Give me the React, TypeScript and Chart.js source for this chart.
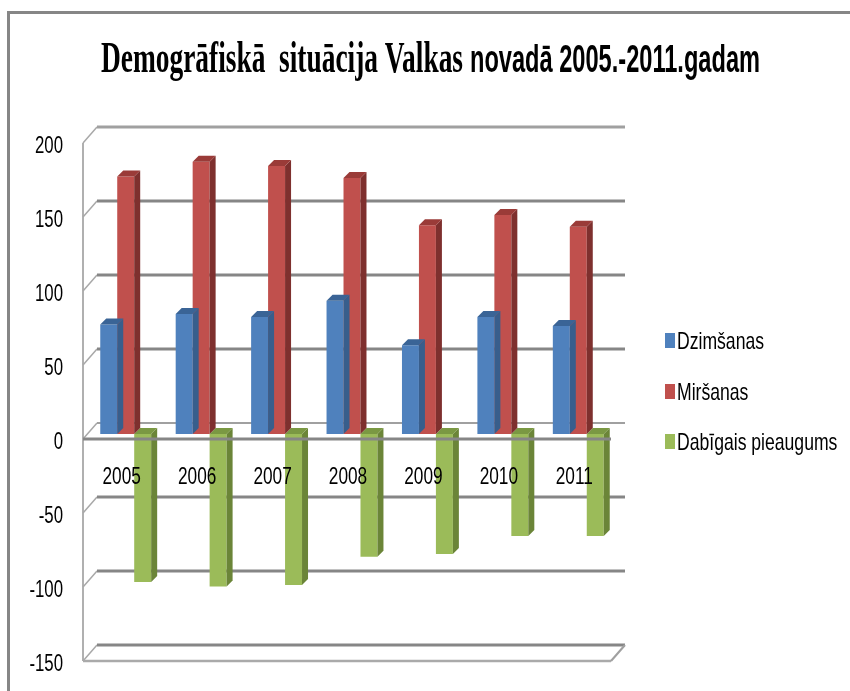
import React, { useEffect, useRef } from "react";
import { Chart, registerables } from "chart.js";
Chart.register(...registerables);

const years = ["2005", "2006", "2007", "2008", "2009", "2010", "2011"];
const births = [74, 81, 79, 90, 60, 79, 73];
const deaths = [174, 184, 181, 173, 141, 148, 140];
const naturalGrowth = [-100, -103, -102, -83, -81, -69, -69];
const seriesNames = ["Dzimšanas", "Miršanas", "Dabīgais pieaugums"];
const yTickValues = [-150, -100, -50, 0, 50, 100, 150, 200];
const titleSerif = "Demogrāfiskā  situācija Valkas";
const titleSans = "novadā 2005.-2011.gadam";

const frontColors = ["#4F81BD", "#C0504D", "#9BBB59"];
const sideColors = ["#385E8C", "#7E302E", "#6B8538"];
const topColors = ["#3A6496", "#9A3B38", "#7A9843"];

const BACK_X = 9, BACK_Y = -11, FRONT_X = -5, FRONT_Y = 5, DEPTH = 6;
const LABEL_FONT = "23px 'Liberation Sans', Arial, sans-serif";

function line(ctx: CanvasRenderingContext2D, x1: number, y1: number, x2: number, y2: number, color: string, w: number) {
  ctx.beginPath();
  ctx.strokeStyle = color;
  ctx.lineWidth = w;
  ctx.moveTo(x1, y1);
  ctx.lineTo(x2, y2);
  ctx.stroke();
}

function scaledText(ctx: CanvasRenderingContext2D, text: string, x: number, y: number, font: string, targetW: number) {
  ctx.font = font;
  const w = ctx.measureText(text).width;
  ctx.save();
  ctx.translate(x, y);
  ctx.scale(targetW / w, 1);
  ctx.fillText(text, 0, 0);
  ctx.restore();
}

function squeezedText(ctx: CanvasRenderingContext2D, text: string, x: number, y: number, font: string, sx: number, align: CanvasTextAlign) {
  ctx.save();
  ctx.font = font;
  ctx.textAlign = align;
  ctx.textBaseline = "alphabetic";
  ctx.translate(x, y);
  ctx.scale(sx, 1);
  ctx.fillText(text, 0, 0);
  ctx.restore();
}

const wallsPlugin = {
  id: "walls",
  beforeDatasetsDraw(chart: any) {
    const { ctx, chartArea: a, scales } = chart;
    const y = scales.y;
    ctx.save();
    const yTop = y.getPixelForValue(200);
    const yBot = y.getPixelForValue(-150);
    line(ctx, a.left + FRONT_X, yTop + FRONT_Y, a.left + FRONT_X, yBot + FRONT_Y, "#b0b0b0", 2);
    yTickValues.forEach((v) => {
      const py = y.getPixelForValue(v);
      line(ctx, a.left + FRONT_X, py + FRONT_Y, a.left + BACK_X, py + BACK_Y, "#a8a8a8", 1.5);
      const col = v === 200 ? "#a0a0a0" : v === 0 ? "#a0a0a0" : "#868686";
      line(ctx, a.left + BACK_X, py + BACK_Y, a.right + BACK_X, py + BACK_Y, col, v === 0 ? 2 : 3);
    });
    line(ctx, a.left + FRONT_X, yBot + FRONT_Y, a.right + FRONT_X, yBot + FRONT_Y, "#aaaaaa", 2.5);
    line(ctx, a.right + FRONT_X, yBot + FRONT_Y, a.right + BACK_X, yBot + BACK_Y, "#a0a0a0", 2);
    ctx.restore();
  },
  afterDatasetDraw(chart: any, args: any) {
    const ctx = chart.ctx;
    const i = args.index;
    ctx.save();
    args.meta.data.forEach((el: any) => {
      const { x, y, base, width } = el.getProps(["x", "y", "base", "width"], true);
      const l = x - width / 2, r = x + width / 2;
      const t = Math.min(y, base), b = Math.max(y, base);
      ctx.fillStyle = sideColors[i];
      ctx.beginPath();
      ctx.moveTo(r, t);
      ctx.lineTo(r + DEPTH, t - DEPTH);
      ctx.lineTo(r + DEPTH, b - DEPTH);
      ctx.lineTo(r, b);
      ctx.closePath();
      ctx.fill();
      ctx.fillStyle = topColors[i];
      ctx.beginPath();
      ctx.moveTo(l, t);
      ctx.lineTo(l + DEPTH, t - DEPTH);
      ctx.lineTo(r + DEPTH, t - DEPTH);
      ctx.lineTo(r, t);
      ctx.closePath();
      ctx.fill();
    });
    ctx.restore();
  },
  afterDatasetsDraw(chart: any) {
    const { ctx, chartArea: a, scales } = chart;
    const y = scales.y, x = scales.x;
    const py0 = y.getPixelForValue(0);
    ctx.save();
    line(ctx, a.left + FRONT_X, py0 + FRONT_Y, a.right + FRONT_X, py0 + FRONT_Y, "#868686", 3);
    ctx.fillStyle = "#000";
    // y tick labels
    y.ticks.forEach((t: any) => {
      const py = y.getPixelForValue(t.value);
      squeezedText(ctx, String(t.value), 63, py + 15, LABEL_FONT, 0.73, "right");
    });
    // x category labels
    chart.data.labels.forEach((lab: string, k: number) => {
      const px = x.getPixelForValue(k);
      squeezedText(ctx, lab, px - 4, py0 + 50, LABEL_FONT, 0.75, "center");
    });
    ctx.restore();
  },
  afterDraw(chart: any) {
    const ctx = chart.ctx;
    ctx.save();
    ctx.fillStyle = "#000";
    ctx.textBaseline = "alphabetic";
    ctx.textAlign = "left";
    scaledText(ctx, titleSerif, 101, 72, "bold 44px 'Liberation Serif'", 362);
    scaledText(ctx, titleSans, 470, 72, "bold 39px 'Liberation Sans'", 290);
    const baselines = [349, 400, 450];
    chart.data.datasets.forEach((ds: any, k: number) => {
      ctx.fillStyle = ds.backgroundColor;
      ctx.fillRect(665, baselines[k] - 16, 10, 15);
      ctx.fillStyle = "#000";
      squeezedText(ctx, ds.label, 677, baselines[k], "24px 'Liberation Sans', Arial, sans-serif", 0.733, "left");
    });
    ctx.restore();
  },
};

export default function App() {
  const ref = useRef<HTMLCanvasElement>(null);
  useEffect(() => {
    const chart = new Chart(ref.current!, {
      type: "bar",
      data: {
        labels: years,
        datasets: [
          { label: seriesNames[0], data: births, backgroundColor: frontColors[0] },
          { label: seriesNames[1], data: deaths, backgroundColor: frontColors[1] },
          { label: seriesNames[2], data: naturalGrowth, backgroundColor: frontColors[2] },
        ],
      },
      options: {
        responsive: false,
        devicePixelRatio: 1,
        animation: false,
        layout: { padding: { left: 0, top: 138, right: 234, bottom: 35 } },
        datasets: { bar: { categoryPercentage: 0.675, barPercentage: 1 } },
        plugins: { legend: { display: false }, title: { display: false }, tooltip: { enabled: false } },
        scales: {
          x: {
            display: false,
          },
          y: {
            min: -150,
            max: 200,
            afterFit: (s: any) => { s.width = 88; },
            grid: { display: false, drawTicks: false },
            border: { display: false },
            ticks: { stepSize: 50, display: false },
          },
        },
      },
      plugins: [wallsPlugin],
    });
    return () => chart.destroy();
  }, []);
  return (
    <div style={{ position: "fixed", left: 0, top: 0, width: 850, height: 691, overflow: "hidden", background: "#fff" }}>
      <div style={{ position: "absolute", left: 7, top: 11, width: 1000, height: 1000, borderLeft: "3px solid #868686", borderTop: "3px solid #868686" }} />
      <canvas ref={ref} width={850} height={691} style={{ position: "absolute", left: 0, top: 0, width: 850, height: 691 }} />
    </div>
  );
}
